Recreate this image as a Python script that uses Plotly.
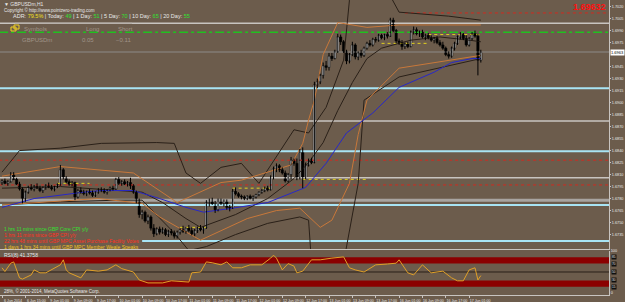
import plotly.graph_objects as go

# ---------------- data (GBPUSDm H1) ----------------
bars = list(range(165))
open_ = [1.6800,1.6802,1.6799,1.6801,1.6810,1.6804,1.6798,1.6792,1.6780,1.6788,
1.6794,1.6792,1.6795,1.6793,1.6790,1.6794,1.6796,1.6794,1.6792,1.6795,
1.6797,1.6816,1.6806,1.6801,1.6798,1.6800,1.6782,1.6790,1.6788,1.6786,
1.6789,1.6787,1.6784,1.6788,1.6791,1.6790,1.6788,1.6791,1.6793,1.6792,
1.6804,1.6799,1.6801,1.6798,1.6800,1.6796,1.6788,1.6776,1.6760,1.6763,
1.6752,1.6757,1.6743,1.6736,1.6742,1.6738,1.6741,1.6735,1.6739,1.6737,
1.6733,1.6738,1.6741,1.6739,1.6743,1.6740,1.6736,1.6740,1.6743,1.6741,
1.6744,1.6775,1.6778,1.6773,1.6766,1.6777,1.6774,1.6777,1.6769,1.6768,
1.6789,1.6786,1.6783,1.6782,1.6780,1.6783,1.6780,1.6782,1.6785,1.6788,
1.6790,1.6793,1.6791,1.6806,1.6817,1.6821,1.6816,1.6812,1.6802,1.6810,
1.6828,1.6824,1.6806,1.6838,1.6806,1.6822,1.6827,1.6825,1.6922,1.6926,
1.6934,1.6946,1.6944,1.6958,1.6955,1.6964,1.6982,1.6976,1.6964,1.6952,
1.6960,1.6972,1.6957,1.6962,1.6959,1.6968,1.6974,1.6972,1.6979,1.6978,
1.6984,1.6981,1.6985,1.6983,1.7003,1.6990,1.6977,1.6975,1.6970,1.6973,
1.6970,1.6988,1.6991,1.6986,1.6988,1.6982,1.6984,1.6981,1.6978,1.6980,
1.6975,1.6972,1.6968,1.6960,1.6958,1.6968,1.6974,1.6982,1.6985,1.6980,
1.6972,1.6980,1.6986,1.6983,1.6953]
high = [1.6804,1.6805,1.6803,1.6813,1.6813,1.6806,1.6801,1.6794,1.6790,1.6796,
1.6798,1.6797,1.6799,1.6796,1.6795,1.6798,1.6800,1.6797,1.6796,1.6799,
1.6822,1.6818,1.6808,1.6804,1.6802,1.6801,1.6792,1.6794,1.6791,1.6790,
1.6792,1.6790,1.6789,1.6793,1.6794,1.6793,1.6792,1.6795,1.6796,1.6806,
1.6807,1.6803,1.6804,1.6802,1.6806,1.6798,1.6790,1.6780,1.6766,1.6765,
1.6760,1.6759,1.6748,1.6744,1.6745,1.6744,1.6743,1.6741,1.6742,1.6740,
1.6740,1.6743,1.6746,1.6744,1.6747,1.6744,1.6742,1.6745,1.6747,1.6745,
1.6778,1.6780,1.6781,1.6777,1.6780,1.6780,1.6779,1.6779,1.6772,1.6792,
1.6794,1.6788,1.6785,1.6784,1.6784,1.6785,1.6784,1.6786,1.6789,1.6792,
1.6795,1.6796,1.6809,1.6820,1.6824,1.6823,1.6819,1.6815,1.6812,1.6832,
1.6830,1.6830,1.6842,1.6844,1.6825,1.6830,1.6831,1.6926,1.6930,1.6936,
1.6950,1.6952,1.6962,1.6962,1.6966,1.6986,1.6985,1.6978,1.6966,1.6962,
1.6976,1.6974,1.6964,1.6966,1.6970,1.6976,1.6978,1.6981,1.6982,1.6986,
1.6986,1.6986,1.6988,1.7006,1.7006,1.6992,1.6980,1.6978,1.6975,1.6976,
1.6990,1.6995,1.6994,1.6990,1.6991,1.6986,1.6987,1.6984,1.6982,1.6983,
1.6978,1.6976,1.6970,1.6964,1.6970,1.6976,1.6984,1.6988,1.6987,1.6984,
1.6982,1.6988,1.6990,1.6986,1.6966]
low = [1.6797,1.6798,1.6796,1.6800,1.6803,1.6797,1.6790,1.6774,1.6776,1.6786,
1.6790,1.6789,1.6792,1.6788,1.6787,1.6791,1.6793,1.6790,1.6789,1.6793,
1.6796,1.6804,1.6799,1.6796,1.6795,1.6778,1.6780,1.6786,1.6784,1.6783,
1.6785,1.6782,1.6782,1.6786,1.6788,1.6786,1.6785,1.6789,1.6790,1.6791,
1.6797,1.6796,1.6797,1.6795,1.6792,1.6786,1.6774,1.6756,1.6754,1.6750,
1.6748,1.6740,1.6732,1.6734,1.6735,1.6736,1.6733,1.6732,1.6734,1.6730,
1.6730,1.6735,1.6737,1.6736,1.6738,1.6734,1.6733,1.6737,1.6739,1.6736,
1.6742,1.6770,1.6772,1.6762,1.6764,1.6772,1.6770,1.6766,1.6764,1.6767,
1.6784,1.6781,1.6779,1.6778,1.6778,1.6779,1.6777,1.6780,1.6783,1.6786,
1.6788,1.6789,1.6790,1.6804,1.6813,1.6813,1.6810,1.6800,1.6800,1.6804,
1.6821,1.6803,1.6804,1.6793,1.6804,1.6820,1.6823,1.6824,1.6918,1.6923,
1.6930,1.6940,1.6940,1.6952,1.6954,1.6962,1.6972,1.6962,1.6948,1.6949,
1.6958,1.6954,1.6953,1.6956,1.6957,1.6966,1.6970,1.6970,1.6975,1.6976,
1.6979,1.6978,1.6980,1.6982,1.6988,1.6974,1.6972,1.6966,1.6967,1.6968,
1.6969,1.6985,1.6984,1.6982,1.6980,1.6978,1.6979,1.6976,1.6974,1.6973,
1.6970,1.6966,1.6958,1.6955,1.6956,1.6965,1.6972,1.6979,1.6978,1.6970,
1.6970,1.6978,1.6981,1.6934,1.6950]
close = [1.6802,1.6799,1.6801,1.6810,1.6804,1.6798,1.6792,1.6780,1.6788,1.6794,
1.6792,1.6795,1.6793,1.6790,1.6794,1.6796,1.6794,1.6792,1.6795,1.6797,
1.6816,1.6806,1.6801,1.6798,1.6800,1.6782,1.6790,1.6788,1.6786,1.6789,
1.6787,1.6784,1.6788,1.6791,1.6790,1.6788,1.6791,1.6793,1.6792,1.6804,
1.6799,1.6801,1.6798,1.6800,1.6796,1.6788,1.6776,1.6760,1.6763,1.6752,
1.6757,1.6743,1.6736,1.6742,1.6738,1.6741,1.6735,1.6739,1.6737,1.6733,
1.6738,1.6741,1.6739,1.6743,1.6740,1.6736,1.6740,1.6743,1.6741,1.6744,
1.6775,1.6778,1.6773,1.6766,1.6777,1.6774,1.6777,1.6769,1.6768,1.6789,
1.6786,1.6783,1.6782,1.6780,1.6783,1.6780,1.6782,1.6785,1.6788,1.6790,
1.6793,1.6791,1.6806,1.6817,1.6821,1.6816,1.6812,1.6802,1.6810,1.6828,
1.6824,1.6806,1.6838,1.6806,1.6822,1.6827,1.6825,1.6922,1.6926,1.6934,
1.6946,1.6944,1.6958,1.6955,1.6964,1.6982,1.6976,1.6964,1.6952,1.6960,
1.6972,1.6957,1.6962,1.6959,1.6968,1.6974,1.6972,1.6979,1.6978,1.6984,
1.6981,1.6985,1.6983,1.7003,1.6990,1.6977,1.6975,1.6970,1.6973,1.6970,
1.6988,1.6991,1.6986,1.6988,1.6982,1.6984,1.6981,1.6978,1.6980,1.6975,
1.6972,1.6968,1.6960,1.6958,1.6968,1.6974,1.6982,1.6985,1.6980,1.6972,
1.6980,1.6986,1.6983,1.6953,1.6963]

# moving average (blue) read at sample bars
ma_bar = [0, 11, 28, 34, 45, 54, 63, 69, 79, 91, 104, 111, 118, 127, 136, 148, 154, 161, 164]
ma_val = [1.6769,1.6780,1.6788,1.6790,1.6790,1.6780,1.6769,1.6763,1.6768,1.6775,
          1.6794,1.6824,1.6862,1.6887,1.6919,1.6938,1.6950,1.6955,1.6955]

# black bands (upper / middle / lower)
bu_bar = [0, 6, 20, 34, 53, 59, 63, 68, 75, 82, 88, 100, 105, 111, 117, 119, 125, 132, 136, 153, 164]
bu_val = [1.6813,1.6840,1.6843,1.6849,1.6850,1.6849,1.6812,1.6799,1.6819,1.6824,1.6799,
          1.6866,1.6862,1.6894,1.6953,1.7028,1.7060,1.7040,1.7013,1.7008,1.7003]
bm_bar = [0, 20, 40, 48, 55, 63, 68, 80, 91, 100, 105, 110, 115, 120, 125, 130, 140, 150, 160, 164]
bm_val = [1.6793,1.6795,1.6790,1.6788,1.6775,1.6755,1.6744,1.6760,1.6780,1.6805,1.6825,
          1.6850,1.6890,1.6925,1.6955,1.6968,1.6978,1.6982,1.6978,1.6976]
bl_bar = [0, 20, 40, 48, 59, 64, 70, 80, 91, 102, 105, 106, 117, 122, 124, 136, 164]
bl_val = [1.6772,1.6776,1.6778,1.6778,1.6737,1.6715,1.6720,1.6735,1.6749,1.6757,1.6753,
          1.6700,1.6700,1.6799,1.6903,1.6932,1.6955]
# orange bands
ou_bar = [0, 20, 45, 60, 75, 82, 99, 103, 105, 107, 110, 115, 125, 136, 164]
ou_val = [1.6808,1.6820,1.6812,1.6775,1.6800,1.6803,1.6822,1.6849,1.6878,1.6903,
          1.6960,1.7000,1.6994,1.6997,1.6997]
ol_bar = [0, 33, 48, 54, 68, 84, 94, 102, 109, 113, 119, 122, 125, 136, 164]
ol_val = [1.6772,1.6780,1.6774,1.6757,1.6728,1.6755,1.6765,1.6768,1.6744,1.6753,
          1.6799,1.6860,1.6903,1.6943,1.6959]

# horizontal levels
cyan_levels = [1.6918, 1.6839, 1.6772]
grey_levels = [1.6999, 1.6877, 1.6806]
red_levels = [1.6828, 1.6797]
green_level = 1.6988
bid = 1.69632
dgrey_level = 1.6778
low_line = 1.6727
low_line_from = 48
red_top = 1.7012
red_top_from = 138
# yellow dotted segments: (price, start bar, end bar)
yel_price = [1.6799, 1.6744, 1.6793, 1.6804, 1.6974, 1.6985]
yel_start = [19, 61, 79, 103, 130, 146]
yel_end = [30, 70, 92, 125, 146, 164]

# RSI
rsi_bar = [0,1,3,4,6,7,10,11,13,15,20,21,22,23,27,29,33,36,39,41,45,47,50,52,55,58,61,64,65,68,
           70,72,75,77,79,82,85,89,92,93,94,96,98,100,101,103,106,109,113,117,119,121,124,128,
           132,135,136,139,141,144,147,151,154,156,158,160,162,163,164]
rsi_val = [60,51,71,74,36,33,43,55,48,48,67,79,55,48,36,55,52,55,67,58,50,31,24,24,24,29,27,26,48,50,
           74,72,67,74,60,60,67,67,83,90,83,55,70,64,48,52,79,79,83,86,60,55,50,67,
           69,71,79,48,43,67,48,52,36,29,29,55,60,31,41.4]
rsi_hi = [70, 85]
rsi_lo = [15, 30]
rsi_mid = 50
rsi_levels = [85, 70, 50, 30, 15]

price_ticks = [t for t in [1.6735 + 0.0015 * k for k in range(20)] if abs(t - bid) > 0.0006]
tick_bars = list(range(0, 165, 8))
tick_text = ["6 Jun 2014", "6 Jun 15:00", "9 Jun 01:00", "9 Jun 09:00", "9 Jun 17:00",
             "10 Jun 01:00", "10 Jun 09:00", "10 Jun 17:00", "11 Jun 01:00", "11 Jun 09:00",
             "11 Jun 17:00", "12 Jun 01:00", "12 Jun 09:00", "12 Jun 17:00", "13 Jun 01:00",
             "13 Jun 09:00", "13 Jun 17:00", "16 Jun 01:00", "16 Jun 09:00", "16 Jun 17:00",
             "17 Jun 01:00"]

# ---------------- figure ----------------
BG = "#6c5c4c"
FONT = "Liberation Sans"
fig = go.Figure()

def line(xs, ys, color, width=1, dash=None, xa="x", ya="y"):
    fig.add_trace(go.Scatter(x=xs, y=ys, mode="lines", xaxis=xa, yaxis=ya,
                             line=dict(color=color, width=width, dash=dash),
                             hoverinfo="skip", showlegend=False))

def hline(y, color, width=1, dash=None, x0=-1, x1=210, ya="y"):
    line([x0, x1], [y, y], color, width, dash, "x" if ya == "y" else "x2", ya)

for y in grey_levels:
    hline(y, "#c8c4c0", 1.5)
hline(dgrey_level, "#a8a4a0", 3)
for y in cyan_levels:
    hline(y, "#a8e4f4", 2)
hline(low_line, "#a8e4f4", 2, x0=low_line_from)
hline(bid, "#8c8a88", 1)
for y in red_levels:
    hline(y, "#d02a20", 1, "dot")
hline(red_top, "#d02a20", 1, "dot", x0=red_top_from)
hline(green_level, "#20c020", 1.5, "dashdot")
for p, a, b in zip(yel_price, yel_start, yel_end):
    hline(p, "#e0d020", 1, "dot", x0=a, x1=b)

line(bu_bar, bu_val, "#2a2018", 1)
line(bm_bar, bm_val, "#2a2018", 1)
line(bl_bar, bl_val, "#2a2018", 1)
line(ou_bar, ou_val, "#c8783a", 1)
line(ol_bar, ol_val, "#c8783a", 1)
line(ma_bar, ma_val, "#2828c8", 1)

# candles: wicks as line segments, bodies as bars (built from the OHLC lists)
wx, wy = [], []
for i, h, l in zip(bars, high, low):
    wx += [i, i, None]
    wy += [l, h, None]
fig.add_trace(go.Scatter(x=wx, y=wy, mode="lines", line=dict(color="#000000", width=1),
                         hoverinfo="skip", showlegend=False, xaxis="x", yaxis="y"))
for up in (True, False):
    sel = [k for k in bars if (close[k] >= open_[k]) == up]
    fig.add_trace(go.Bar(
        x=sel,
        base=[min(open_[k], close[k]) for k in sel],
        y=[max(abs(close[k] - open_[k]), 0.00008) for k in sel],
        width=0.8, xaxis="x", yaxis="y",
        marker=dict(color="#ffffff" if up else "#000000", line=dict(color="#000000", width=0.5)),
        hoverinfo="skip", showlegend=False))

# RSI panel
for lo, hi in (rsi_hi, rsi_lo):
    fig.add_shape(type="rect", xref="x2", yref="y2", x0=-1, x1=210, y0=lo, y1=hi,
                  fillcolor="#8b0000", line=dict(width=0), layer="below")
hline(rsi_mid, "#2a2018", 1, ya="y2")
line(rsi_bar, rsi_val, "#e0a028", 1, xa="x2", ya="y2")

XD = [0, 609 / 625]
fig.update_layout(
    width=625, height=302, margin=dict(l=0, r=0, t=0, b=0, autoexpand=False),
    paper_bgcolor=BG, plot_bgcolor=BG, showlegend=False, barmode="overlay",
    font=dict(family=FONT, size=6, color="#e8e8e8"),
    xaxis=dict(domain=XD, range=[-0.685, 207.9], anchor="y", showticklabels=False,
               showgrid=False, zeroline=False,
               showline=True, linecolor="#c8c4c0", linewidth=1, ticks="", automargin=False),
    xaxis2=dict(domain=XD, range=[-0.685, 207.9], anchor="y2", matches="x",
                showgrid=False, zeroline=False, showline=True, linecolor="#c8c4c0",
                tickvals=tick_bars, ticktext=tick_text, ticks="outside", ticklen=2,
                tickcolor="#c8c4c0", ticklabelshift=11, ticklabelstandoff=0, tickangle=0,
                automargin=False, tickfont=dict(size=3.6, color="#e8e8e8")),
    yaxis=dict(domain=[53 / 302, 1], range=[1.671695, 1.70282], side="right", anchor="x",
               showgrid=False, zeroline=False, showline=True, linecolor="#c8c4c0",
               tickvals=price_ticks, tickformat=".4f", ticks="outside", ticklen=1,
               ticklabelstandoff=0,
               tickcolor="#c8c4c0", automargin=False, tickfont=dict(size=3.8, color="#e8e8e8")),
    yaxis2=dict(domain=[7 / 302, 51 / 302], range=[-4.8, 100], side="right", anchor="x2",
                showgrid=False, zeroline=False, showline=True, linecolor="#c8c4c0",
                tickvals=[0, 100], ticks="", automargin=False, ticklabelstandoff=0,
                tickfont=dict(size=3.8, color="#e8e8e8")),
)

def txt(x, y, s, color="#e8e8e8", size=6, xref="paper", yref="paper", **kw):
    fig.add_annotation(x=x, y=y, xref=xref, yref=yref, text=s, showarrow=False,
                       xanchor=kw.pop("xanchor", "left"), yanchor=kw.pop("yanchor", "middle"),
                       font=dict(family=FONT, size=size, color=color), **kw)

def px(x):
    return x / 625

def py(y):
    return 1 - y / 302

for lv in rsi_levels:
    txt(px(611), lv, str(lv), color="#e8e8e8", size=3.2, yref="y2", bgcolor="#101010", borderpad=0)

txt(px(2), py(4), "▼ GBPUSDm,H1", size=5)
txt(px(2), py(10), "Copyright © http://www.pointzero-trading.com", size=4.5)
txt(px(11), py(16), "ADR: <span style='color:#f0e020'>79.5%</span> | Today: <span style='color:#30e030'>49</span>"
    " | 1 Day: <span style='color:#30e030'>51</span> | 5 Day: <span style='color:#30e030'>70</span>"
    " | 10 Day: <span style='color:#30e030'>65</span> | 20 Day: <span style='color:#30e030'>55</span>", size=5.5)
fig.add_shape(type="line", xref="paper", yref="paper", x0=px(15), x1=px(132), y0=py(23), y1=py(23),
              line=dict(color="#a8a098", width=1))
fig.add_shape(type="rect", xref="paper", yref="paper", x0=px(11), x1=px(16), y0=py(31), y1=py(27),
              line=dict(color="#f0d020", width=1))
fig.add_shape(type="rect", xref="paper", yref="paper", x0=px(14), x1=px(19), y0=py(29), y1=py(25),
              line=dict(color="#f0d020", width=1))
GR = "#a09488"
txt(px(22), py(29), "Symbols", color=GR, size=6)
txt(px(84), py(29), "Long", color=GR, size=6)
txt(px(116), py(29), "Short", color=GR, size=6)
txt(px(20), py(40), "GBPUSDm", color=GR, size=6)
txt(px(80), py(40), "0.05", color=GR, size=6)
txt(px(114), py(40), "−0.11", color=GR, size=6)
txt(px(608), py(7), "<b>1.69632</b>", color="#ff1010", size=9, xanchor="right")
txt(px(610), bid, "1.6963", color="#000000", size=4, yref="y", bgcolor="#ffffff", borderpad=0)

txt(px(2), py(229), "1 hrs 11 mins since GBP Core CPI y/y", color="#30e030", size=5)
txt(px(2), py(235), "1 hrs 11 mins since GBP CPI y/y", color="#ff3020", size=5)
txt(px(2), py(241), "22 hrs 48 mins until GBP MPC Asset Purchase Facility Votes", color="#ff3020", size=5)
txt(px(2), py(247), "1 days 1 hrs 34 mins until GBP MPC Member Weale Speaks", color="#f0c020", size=5)

txt(px(2), py(255), "RSI(8) 41.3758", size=5)
txt(px(2), py(291), "28%, © 2001-2014, MetaQuotes Software Corp.", size=4.5)

fig.write_html("out.html")
